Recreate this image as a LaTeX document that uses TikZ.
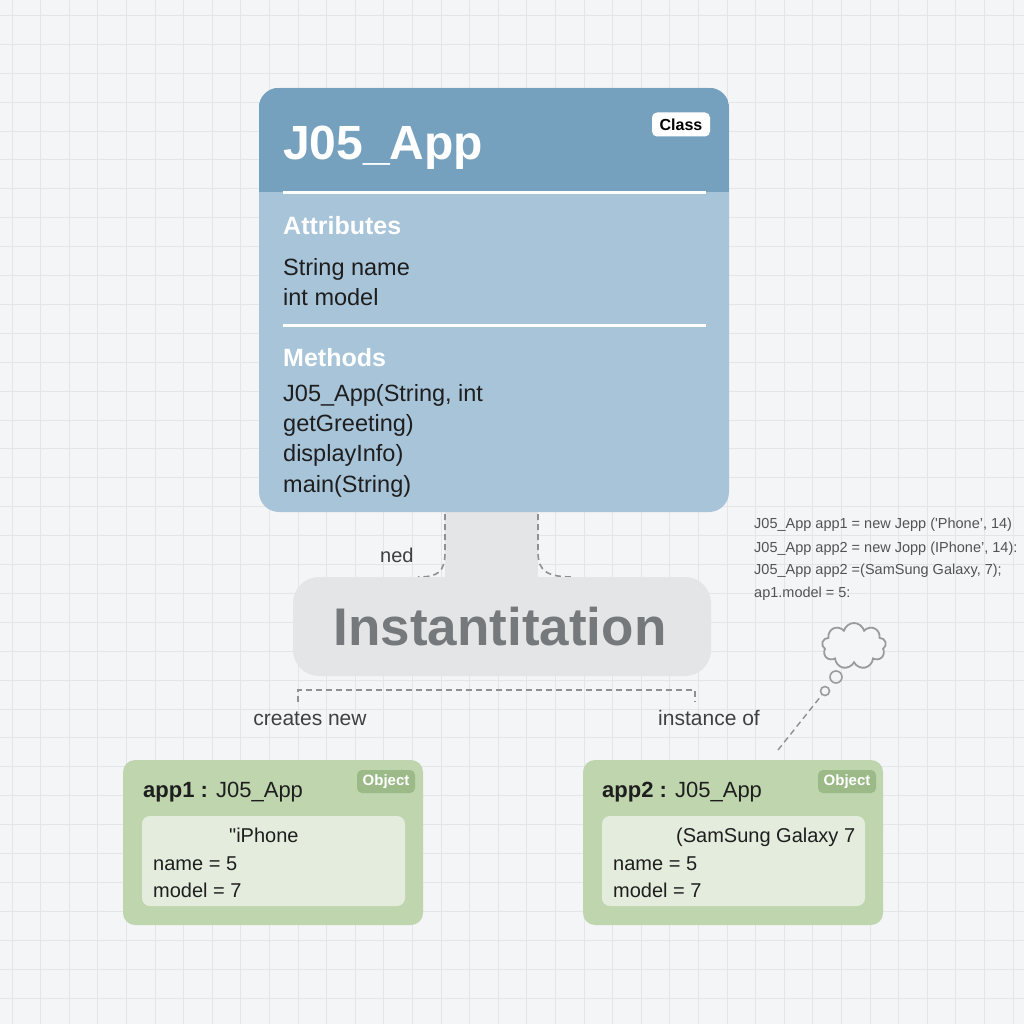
\documentclass[tikz,border=0pt]{standalone}
\usepackage{fontspec}
\setmainfont{Liberation Sans}
\newfontfamily\rawsans{Liberation Sans}
\usetikzlibrary{shapes.symbols}
\definecolor{paper}{HTML}{F4F5F6}
\definecolor{gridc}{HTML}{E3E5E8}
\definecolor{clshead}{HTML}{76A1BE}
\definecolor{clsbody}{HTML}{A8C4D9}
\definecolor{stemc}{HTML}{E3E5E7}
\definecolor{insttext}{HTML}{76797C}
\definecolor{objgreen}{HTML}{BED5AE}
\definecolor{objinner}{HTML}{E4EDDD}
\definecolor{objbadge}{HTML}{9BBA88}
\definecolor{dashc}{HTML}{8E9194}
\definecolor{inkc}{HTML}{1E1E1E}
\definecolor{codec}{HTML}{505356}
\newcommand{\fs}[1]{\fontsize{#1}{#1}\selectfont}
\tikzset{
  x=1pt, y=-1pt,
  gridline/.style={gridc, line width=1pt},
  classbox/.style={rectangle, rounded corners=20pt, fill=clsbody, minimum width=470pt, minimum height=424pt, inner sep=0pt},
  instbox/.style={rectangle, rounded corners=26pt, fill=stemc, minimum width=418pt, minimum height=99pt, inner sep=0pt},
  objbox/.style={rectangle, rounded corners=12pt, fill=objgreen, minimum width=300pt, minimum height=165pt, inner sep=0pt},
  innerbox/.style={rectangle, rounded corners=8pt, fill=objinner, minimum width=263pt, minimum height=90pt, inner sep=0pt},
  badge/.style={rectangle, rounded corners=5pt, inner sep=0pt, minimum height=24pt},
  txt/.style={anchor=base west, inner sep=0pt, text=inkc},
  conn/.style={dashc, dashed, line width=1.6pt, dash pattern=on 6pt off 4pt},
  sepline/.style={white, line width=3pt},
}
\begin{document}
\begin{tikzpicture}
% canvas and grid
\fill[paper] (0,0) rectangle (1024,1024);
\useasboundingbox (0,0) rectangle (1024,1024);
\foreach \i in {0,...,35} {
  \pgfmathsetmacro\gx{round(11.5+28.6*\i)+0.5}
  \pgfmathsetmacro\gy{round(15+28.9*\i)+0.5}
  \draw[gridline] (\gx,0) -- (\gx,1024);
  \draw[gridline] (0,\gy) -- (1024,\gy);
}

% stem joining the class to the instantiation box
\fill[stemc] (445,505) rectangle (538,590);
\draw[conn] (445,514) -- (445,552) .. controls (445,572) and (438,577) .. (418,577);
\draw[conn] (538,514) -- (538,552) .. controls (538,572) and (548,577) .. (574,577);

% class box
\node[classbox] (cls) at (494,300) {};
\begin{scope}
  \clip[rounded corners=20pt] (cls.north west) rectangle (cls.south east);
  \fill[clshead] (cls.north west) rectangle ([yshift=-104pt]cls.north east);
\end{scope}
\draw[sepline] (283,193) -- (706,193);
\draw[sepline] (283,325) -- (706,325);
\node[txt, text=white] (title) at (283,160) {\fs{48}\bfseries J05\_App};
\node[badge, fill=white, minimum width=58pt] (clsbadge) at (681,124.5) {\fs{16}\bfseries Class};
\node[txt, text=white] (attrh) at (283,234) {\fs{25}\bfseries Attributes};
\node[txt] (a1) at (283,275) {\fs{23.5}String name};
\node[txt] (a2) at (283,305) {\fs{23.5}int model};
\node[txt, text=white] (methh) at (283,366) {\fs{25}\bfseries Methods};
\node[txt] (m1) at (283,401) {\fs{23.5}J05\_App(String, int};
\node[txt] (m2) at (283,431) {\fs{23.5}getGreeting)};
\node[txt] (m3) at (283,461) {\fs{23.5}displayInfo)};
\node[txt] (m4) at (283,492) {\fs{23.5}main(String)};

\node[txt, text=inkc!85] (ned) at (380,562) {\fs{20}ned};

% instantiation box
\node[instbox] (inst) at (502,626.5) {};
\node[anchor=base, inner sep=0pt, text=insttext] (insttitle) at (500,645) {\fs{53}\bfseries Instantitation};

% bracket towards the objects
\coordinate (bl) at (298,702);
\coordinate (br) at (695,702);
\draw[conn] (bl) -- (298,690) -- (695,690) -- (br);
\node[anchor=base, inner sep=0pt, text=inkc!85] (lblcreate) at (310,725) {\fs{21}creates new};
\node[anchor=base, inner sep=0pt, text=inkc!85] (lblinst) at (709,725) {\fs{21}instance of};

% code snippet
\node[txt, text=codec] (c1) at (754,528) {\fs{14.5}J05\_App app1 = new Jepp (ʹPhone’, 14)};
\node[txt, text=codec] (c2) at (754,552) {\fs{14.5}J05\_App app2 = new Jopp (IPhone’, 14):};
\node[txt, text=codec] (c3) at (754,574) {\fs{14.5}J05\_App app2 =(SamSung Galaxy, 7);};
\node[txt, text=codec] (c4) at (754,597) {\fs{14.5}ap1.model = 5:};

% thought bubble
\node[cloud, cloud puffs=9, aspect=1.5, draw=dashc!90, line width=1.8pt, fill=paper, minimum width=64pt, minimum height=46pt, inner sep=0pt] (cloud) at (854,646) {};
\node[circle, draw=dashc!90, line width=1.6pt, minimum size=12pt, inner sep=0pt] (dot1) at (836,677) {};
\node[circle, draw=dashc!90, line width=1.6pt, minimum size=9pt, inner sep=0pt] (dot2) at (825,691) {};
\coordinate (tail) at (778,750);
\draw[conn, line width=1.4pt] (tail) -- (dot2);

% first object
\node[objbox] (o1) at (273,842.5) {};
\node[innerbox] (o1in) at (273.5,861) {};
\node[txt] (o1t) at (143,797) {\fs{22}\textbf{app1 :} J05\_App};
\node[badge, fill=objbadge, minimum width=58pt, minimum height=23pt] (o1b) at (386,781.5) {\fs{15}\bfseries\color{white}Object};
\node[txt] (o1v) at (229,842) {\fs{20}{\rawsans"}iPhone};
\node[txt] (o1n) at (153,870) {\fs{20}name = 5};
\node[txt] (o1m) at (153,897) {\fs{20}model = 7};

% second object
\node[objbox] (o2) at (733,842.5) {};
\node[innerbox] (o2in) at (733.5,861) {};
\node[txt] (o2t) at (602,797) {\fs{22}\textbf{app2 :} J05\_App};
\node[badge, fill=objbadge, minimum width=58pt, minimum height=23pt] (o2b) at (847,781.5) {\fs{15}\bfseries\color{white}Object};
\node[txt] (o2v) at (676,842) {\fs{20}(SamSung Galaxy 7};
\node[txt] (o2n) at (613,870) {\fs{20}name = 5};
\node[txt] (o2m) at (613,897) {\fs{20}model = 7};
\end{tikzpicture}
\end{document}
